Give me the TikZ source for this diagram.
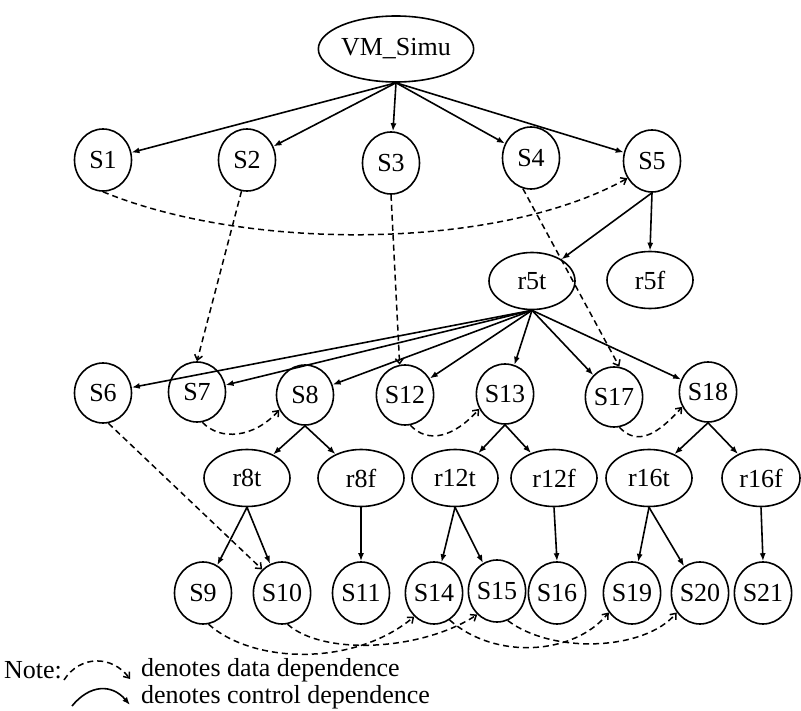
\documentclass[tikz,border=0pt]{standalone}
\usepackage{fontspec}
\setmainfont{Liberation Serif}
\usetikzlibrary{shapes.geometric,arrows.meta}

\begin{document}
\begin{tikzpicture}[x=1pt,y=-1pt,
  every node/.style={font=\fontsize{26}{30}\selectfont,inner sep=0pt},
  st/.style={ellipse,draw,line width=1.6pt,minimum width=57pt,minimum height=62pt},
  rg/.style={ellipse,draw,line width=1.6pt,minimum width=86pt,minimum height=57pt},
  ctl/.style={line width=1.6pt,-{Latex[length=8pt,width=6pt]}},
  dat/.style={line width=1.5pt,dash pattern=on 6pt off 4pt,-{Straight Barb[length=5pt,width=8pt]}},
]
\useasboundingbox (0,0) rectangle (801,711);

% program entry
\node[st,minimum width=100pt,minimum height=66pt] (vm) at (396,49) {VM\_Simu};

% top-level statements
\node[st] (s1) at (103,160) {S1};
\node[st] (s2) at (247,160) {S2};
\node[st] (s3) at (391,163) {S3};
\node[st] (s4) at (531,158) {S4};
\node[st] (s5) at (652,161) {S5};

% regions of S5
\node[rg] (r5t) at (532,281) {r5t};
\node[rg,minimum width=86pt] (r5f) at (650,280) {r5f};

% statements in r5t
\node[st,minimum height=60pt] (s6)  at (103,393) {S6};
\node[st,minimum height=60pt] (s7)  at (197,392) {S7};
\node[st,minimum height=60pt] (s8)  at (305,395) {S8};
\node[st,minimum height=60pt] (s12) at (405,395) {S12};
\node[st,minimum height=60pt] (s13) at (505,394) {S13};
\node[st,minimum height=60pt] (s17) at (614,397) {S17};
\node[st,minimum height=60pt] (s18) at (708,392) {S18};

% nested regions
\node[rg] (r8t)  at (247,478) {r8t};
\node[rg] (r8f)  at (361,478) {r8f};
\node[rg] (r12t) at (455,478) {r12t};
\node[rg] (r12f) at (554,478) {r12f};
\node[rg] (r16t) at (649,478) {r16t};
\node[rg,minimum width=78pt] (r16f) at (761,478) {r16f};

% innermost statements
\node[st] (s9)  at (203,593) {S9};
\node[st] (s10) at (282,593) {S10};
\node[st] (s11) at (361,593) {S11};
\node[st] (s14) at (434,593) {S14};
\node[st] (s15) at (497,591) {S15};
\node[st] (s16) at (557,593) {S16};
\node[st] (s19) at (632,593) {S19};
\node[st] (s20) at (700,593) {S20};
\node[st] (s21) at (763,593) {S21};

% control dependences
\foreach \t in {s1,s2,s3,s4,s5} \draw[ctl] (vm.south) -- (\t);
\draw[ctl] (s5.south) -- (r5t);
\draw[ctl] (s5.south) -- (r5f.north);
\foreach \t in {s6,s7,s8,s12,s13,s17,s18} \draw[ctl] (r5t.south) -- (\t);
\draw[ctl] (s8.south) -- (r8t);
\draw[ctl] (s8.south) -- (r8f);
\draw[ctl] (s13.south) -- (r12t);
\draw[ctl] (s13.south) -- (r12f);
\draw[ctl] (s18.south) -- (r16t);
\draw[ctl] (s18.south) -- (r16f);
\draw[ctl] (r8t.south) -- (s9);
\draw[ctl] (r8t.south) -- (s10);
\draw[ctl] (r8f.south) -- (s11.north);
\draw[ctl] (r12t.south) -- (s14);
\draw[ctl] (r12t.south) -- (s15);
\draw[ctl] (r12f.south) -- (s16.north);
\draw[ctl] (r16t.south) -- (s19);
\draw[ctl] (r16t.south) -- (s20);
\draw[ctl] (r16f.south) -- (s21.north);

% data dependences
\draw[dat] (s1.south) .. controls +(146,60) and +(-129,72) .. (s5.215);
\draw[dat] (s2.-100) -- (s7.north);
\draw[dat] (s3.south) -- (s12.100);
\draw[dat] (s4.-105) -- (s17.80);
\draw[dat] (s7.-80) .. controls +(18,19) and +(-25,28) .. (s8.210);
\draw[dat] (s12.-80) .. controls +(18,19) and +(-25,28) .. (s13.210);
\draw[dat] (s17.-80) .. controls +(18,19) and +(-25,28) .. (s18.210);
\draw[dat] (s6.-80) -- (s10.130);
\draw[dat] (s9.-80) .. controls +(45,40) and +(-60,50) .. (s14.230);
\draw[dat] (s10.-80) .. controls +(36,32) and +(-55,36) .. (s15.230);
\draw[dat] (s14.-60) .. controls +(45,40) and +(-35,43) .. (s19.220);
\draw[dat] (s15.-70) .. controls +(45,34) and +(-32,38) .. (s20.220);

% legend
\node[anchor=west] (note) at (4,670) {Note:};
\coordinate (da) at (64,680);
\coordinate (db) at (130,679);
\draw[dat] (da) .. controls (80,655) and (112,655) .. (db);
\coordinate (ca) at (72,706);
\coordinate (cb) at (130,705);
\draw[ctl] (ca) .. controls (90,684) and (112,684) .. (cb);
\node[anchor=west] (ldat) at (141,670) {denotes data dependence};
\node[anchor=west] (lctl) at (141,697) {denotes control dependence};
\end{tikzpicture}
\end{document}
